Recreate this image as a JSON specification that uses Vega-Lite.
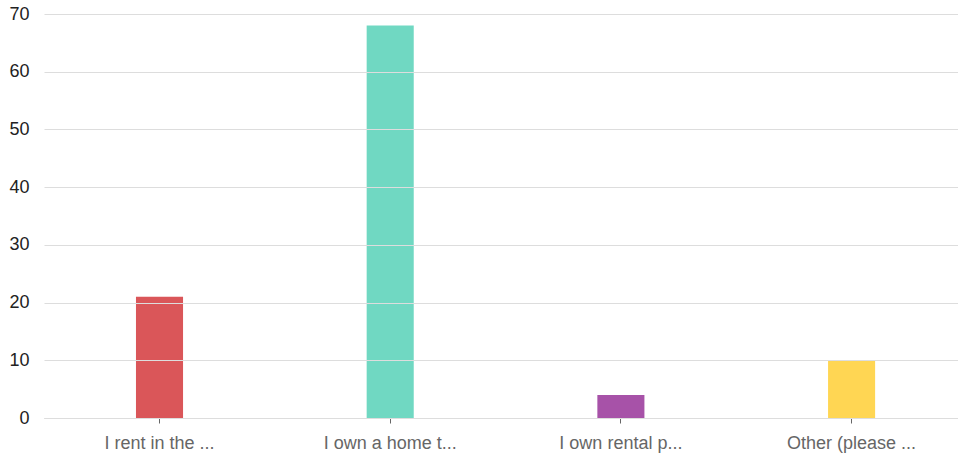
{
  "$schema": "https://vega.github.io/schema/vega-lite/v6.json",
  "width": 914,
  "height": 404,
  "autosize": {"type": "none"},
  "padding": {"left": 44, "top": 14, "right": 0, "bottom": 44},
  "background": "white",
  "config": {"view": {"stroke": null}, "font": "Liberation Sans"},
  "data": {"values": [
    {"label": "I rent in the ...", "value": 21, "c": "a"},
    {"label": "I own a home t...", "value": 68, "c": "b"},
    {"label": "I own rental p...", "value": 4, "c": "c"},
    {"label": "Other (please ...", "value": 10, "c": "d"}
  ]},
  "mark": {"type": "bar", "opacity": 0.9},
  "encoding": {
    "x": {
      "field": "label", "type": "nominal", "sort": null,
      "scale": {"paddingInner": 0.796, "paddingOuter": 0.379, "align": 0.526},
      "axis": {"title": null, "labelAngle": 0, "labelFontSize": 18, "labelColor": "#666666", "labelFont": "Liberation Sans",
        "domainColor": "#c8c8c8", "domainWidth": 1, "tickColor": "#666666", "tickSize": 5, "labelPadding": 11, "grid": false}
    },
    "y": {
      "field": "value", "type": "quantitative",
      "scale": {"domain": [0, 70]},
      "axis": {"title": null, "values": [0, 10, 20, 30, 40, 50, 60, 70], "labelFontSize": 18, "labelColor": "#222222", "labelFont": "Liberation Sans",
        "domain": false, "ticks": false, "labelPadding": 15, "gridColor": "#dddddd", "gridWidth": 1, "zindex": 1}
    },
    "color": {
      "field": "c", "type": "nominal", "legend": null,
      "scale": {"domain": ["a", "b", "c", "d"], "range": ["#d64447", "#60d4bb", "#9d3f9f", "#ffd140"]}
    }
  }
}
